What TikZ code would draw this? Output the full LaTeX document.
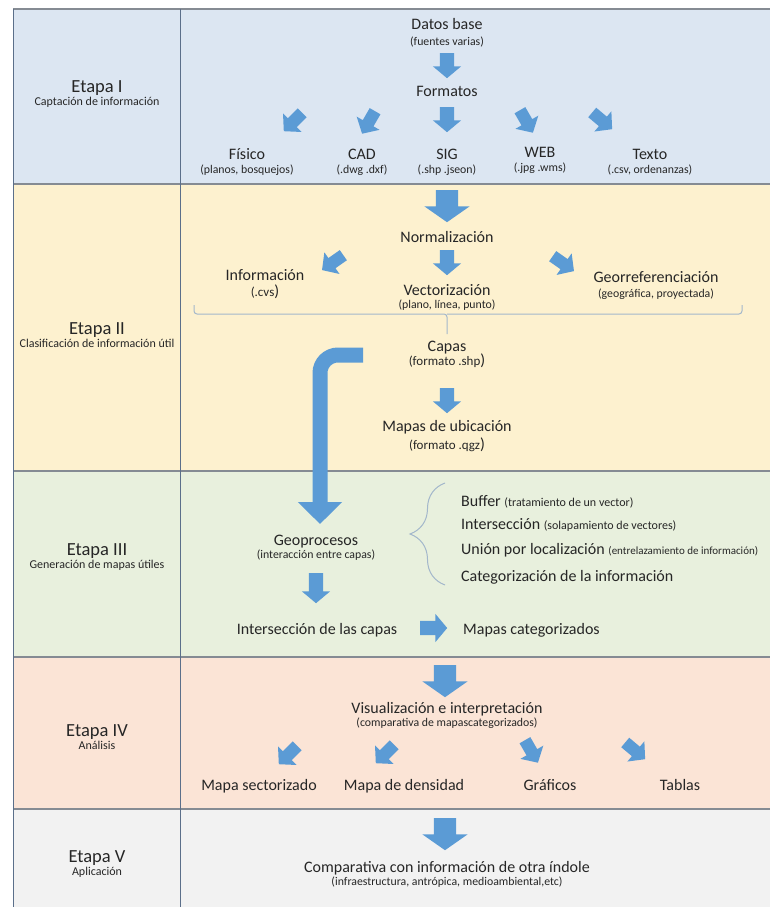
\documentclass[tikz,border=0pt]{standalone}
\usepackage{fontspec}
\setmainfont{Carlito}
\usetikzlibrary{positioning, shapes.arrows, arrows.meta, decorations.pathreplacing}
\definecolor{rowone}{HTML}{DCE6F2}
\definecolor{rowtwo}{HTML}{FDF1CF}
\definecolor{rowthree}{HTML}{E8F0DD}
\definecolor{rowfour}{HTML}{FBE4D6}
\definecolor{rowfive}{HTML}{F2F2F2}
\definecolor{rowline}{HTML}{858B93}
\definecolor{colline}{HTML}{5B6F8A}
\definecolor{flow}{HTML}{5B9BD5}
\definecolor{txt}{HTML}{262626}
\definecolor{bracecol}{HTML}{A3B7CB}
\tikzset{
  stage/.style={
    font=\fontsize{18.5}{20}\selectfont,
    text=txt, inner sep=1pt,
    text height=13pt, text depth=2pt
  },
  stagesub/.style={
    font=\fontsize{12}{13}\selectfont,
    text=txt, inner sep=1pt,
    text height=8pt, text depth=2.5pt
  },
  item/.style={
    font=\fontsize{16}{18}\selectfont,
    text=txt, inner sep=1pt,
    text height=11pt, text depth=3pt
  },
  note/.style={
    font=\fontsize{11.8}{13}\selectfont,
    text=txt, inner sep=1pt,
    text height=8pt, text depth=2.5pt
  },
  bignote/.style={note, font=\fontsize{13}{14}\selectfont, text height=9.5pt, text depth=3pt},
  flow arrow/.style={
    single arrow, fill=flow, draw=none,
    inner xsep=0pt, inner ysep=7pt,
    single arrow head extend=7pt,
    single arrow tip angle=100,
    minimum height=25pt
  },
  big arrow/.style={
    flow arrow, inner ysep=11pt,
    single arrow head extend=11.5pt,
    single arrow tip angle=110,
    minimum height=32pt
  },
  tilt arrow/.style={
    flow arrow, inner ysep=6pt,
    single arrow head extend=7pt,
    single arrow tip angle=95,
    minimum height=26pt
  },
  pointdown/.style={anchor=tail, rotate=-90},
  rowrule/.style={draw=rowline, line width=1.5pt},
  colrule/.style={draw=colline, line width=1pt},
  bracket/.style={draw=bracecol, line width=1pt}
}
\newcommand{\bigclose}{{\fontsize{16}{16}\selectfont)}}
\newcommand{\aside}[1]{{\fontsize{12}{13}\selectfont #1}}

\begin{document}
\begin{tikzpicture}[x=1pt, y=-1pt, node distance=1pt]
  \useasboundingbox (0,0) rectangle (769,907);

  % stage bands
  \fill[rowone] (13,9) rectangle (775,184);
  \fill[rowtwo] (13,184) rectangle (775,471);
  \fill[rowthree] (13,471) rectangle (775,657);
  \fill[rowfour] (13,657) rectangle (775,809);
  \fill[rowfive] (13,809) rectangle (775,910);
  \draw[rowrule] (13,9) -- (775,9);
  \draw[rowrule] (13,184) -- (775,184);
  \draw[rowrule] (13,471) -- (775,471);
  \draw[rowrule] (13,657) -- (775,657);
  \draw[rowrule] (13,809) -- (775,809);
  \draw[colrule] (13,9) -- (13,910);
  \draw[colrule] (180,9) -- (180,910);

  % stage names
  \node[stage] (et1) at (97,87) {Etapa I};
  \node[stagesub, below=1pt of et1] (et1sub) {Captación de información};
  \node[stage] (et2) at (97,329) {Etapa II};
  \node[stagesub, below=1pt of et2] (et2sub) {Clasificación de información útil};
  \node[stage] (et3) at (97,550) {Etapa III};
  \node[stagesub, below=1pt of et3] (et3sub) {Generación de mapas útiles};
  \node[stage] (et4) at (97,731) {Etapa IV};
  \node[stagesub, below=1pt of et4] (et4sub) {Análisis};
  \node[stage] (et5) at (97,857) {Etapa V};
  \node[stagesub, below=1pt of et5] (et5sub) {Aplicación};

  % Etapa I
  \node[item] (datos) at (447,26) {Datos base};
  \node[note, below=2pt of datos] (datosnote) {(fuentes varias)};
  \node[flow arrow, pointdown] (arrdatos) at (447,53) {};
  \node[item] (formatos) at (447,92) {Formatos};
  \node[flow arrow, pointdown] (arrsig) at (447,107) {};
  \node[item] (fisico) at (247,155) {Físico};
  \node[note, below=1pt of fisico] (fisiconote) {(planos, bosquejos)};
  \node[item] (cad) at (362,155) {CAD};
  \node[note, below=1pt of cad] (cadnote) {(.dwg .dxf)};
  \node[item] (sig) at (447,155) {SIG};
  \node[note, below=1pt of sig] (signote) {(.shp .jseon)};
  \node[item] (web) at (540,153) {WEB};
  \node[note, below=1pt of web] (webnote) {(.jpg .wms)};
  \node[item] (texto) at (650,155) {Texto};
  \node[note, below=1pt of texto] (textonote) {(.csv, ordenanzas)};
  \node[tilt arrow, rotate=225] (arrfisico) at (295,120) {};
  \node[tilt arrow, rotate=240] (arrcad) at (370,120) {};
  \node[tilt arrow, rotate=-60] (arrweb) at (525,119) {};
  \node[tilt arrow, rotate=-40] (arrtexto) at (600,119) {};

  % Etapa II
  \node[big arrow, pointdown] (arrnorm) at (447,190) {};
  \node[item] (norm) at (447,238) {Normalización};
  \node[flow arrow, pointdown] (arrvect) at (447,250) {};
  \node[item] (vect) at (447,291) {Vectorización};
  \node[note, below=0pt of vect] (vectnote) {(plano, línea, punto)};
  \node[item] (info) at (265,276) {Información};
  \node[bignote, below=2pt of info] (infonote) {(.cvs\bigclose};
  \node[item] (georef) at (656,278) {Georreferenciación};
  \node[note, below=2pt of georef] (georefnote) {(geográfica, proyectada)};
  \node[tilt arrow, rotate=215] (arrinfo) at (335,261) {};
  \node[tilt arrow, rotate=-35] (arrgeoref) at (561,262) {};
  \coordinate (brl) at (194,305);
  \coordinate (brr) at (742,305);
  \coordinate (brm) at (447,314);
  \coordinate (brtip) at (447,334);
  \draw[bracket, rounded corners=3pt] (brl) |- (brm) -- (brtip);
  \draw[bracket, rounded corners=3pt] (brr) |- (brm);
  \node[item] (capas) at (447,347) {Capas};
  \node[bignote, below=0pt of capas] (capasnote) {(formato .shp\bigclose};
  \node[flow arrow, pointdown] (arrubic) at (447,388) {};
  \node[item] (ubic) at (447,427) {Mapas de ubicación};
  \node[bignote, below=4pt of ubic] (ubicnote) {(formato .qgz\bigclose};
  \coordinate (bendstart) at (363,355);
  \coordinate (bendend) at (320,524);
  \draw[flow, line width=15pt, rounded corners=18pt, -{Triangle[width=43pt, length=22pt]}] (bendstart) -| (bendend);

  % Etapa III
  \node[item] (geoproc) at (316,541) {Geoprocesos};
  \node[note, below=0pt of geoproc] (geoprocnote) {(interacción entre capas)};
  \node[flow arrow, pointdown, minimum height=30pt] (arrinter) at (316,573) {};
  \node[item] (inter) at (317,630) {Intersección de las capas};
  \node[flow arrow, anchor=tail, minimum height=27pt] (arrcat) at (420,628) {};
  \node[item, anchor=west] (mapcat) at (462,630) {Mapas categorizados};
  \coordinate (bvtop) at (445,483);
  \coordinate (bvbot) at (445,585);
  \draw[bracket, decorate, decoration={brace, amplitude=35pt}] (bvbot) -- (bvtop);
  \node[item, anchor=west] (buffer) at (460,502) {Buffer \aside{(tratamiento de un vector)}};
  \node[item, anchor=west] (intersec) at (460,525) {Intersección \aside{(solapamiento de vectores)}};
  \node[item, anchor=west] (union) at (460,550) {Unión por localización {\fontsize{11}{12}\selectfont(entrelazamiento de información)}};
  \node[item, anchor=west] (categ) at (460,577) {Categorización de la información};

  % Etapa IV
  \node[big arrow, pointdown] (arrvis) at (445,665) {};
  \node[item] (visual) at (447,709) {Visualización e interpretación};
  \node[note, below=0pt of visual] (visualnote) {(comparativa de mapascategorizados)};
  \node[tilt arrow, rotate=225] (arrsect) at (290,753) {};
  \node[tilt arrow, rotate=225] (arrdens) at (387,752) {};
  \node[tilt arrow, rotate=-60] (arrgraf) at (530,749) {};
  \node[tilt arrow, rotate=-40] (arrtab) at (633,749) {};
  \node[item] (sect) at (259,786) {Mapa sectorizado};
  \node[item] (dens) at (404,786) {Mapa de densidad};
  \node[item] (graf) at (550,786) {Gráficos};
  \node[item] (tab) at (680,786) {Tablas};

  % Etapa V
  \node[big arrow, pointdown] (arrcomp) at (445,818) {};
  \node[item] (comp) at (447,868) {Comparativa con información de otra índole};
  \node[note, below=0pt of comp] (compnote) {(infraestructura, antrópica, medioambiental,etc)};
\end{tikzpicture}
\end{document}
